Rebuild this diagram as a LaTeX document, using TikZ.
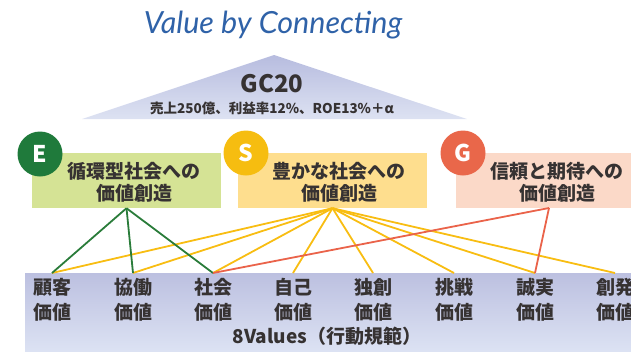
\documentclass[tikz,border=0pt]{standalone}
\usepackage{fontspec}
\setmainfont{Noto Sans CJK JP}
\newfontfamily\titlefont{Lato}
\definecolor{titleblue}{HTML}{2F62A8}
\definecolor{txtc}{HTML}{363232}
\definecolor{triTop}{HTML}{B7BCDF}
\definecolor{triBot}{HTML}{DDE2F2}
\definecolor{bandTop}{HTML}{BCC0E0}
\definecolor{bandBot}{HTML}{DCE2F3}
\definecolor{eFill}{HTML}{D5E395}
\definecolor{sFill}{HTML}{FEDE8E}
\definecolor{gFill}{HTML}{FBD9C8}
\definecolor{eCirc}{HTML}{1F7A3B}
\definecolor{sCirc}{HTML}{F6BD10}
\definecolor{gCirc}{HTML}{E9674A}
\definecolor{eLine}{HTML}{2A7C3A}
\definecolor{sLine}{HTML}{F8BD12}
\definecolor{gLine}{HTML}{EA634A}
\begin{document}
\begin{tikzpicture}[x=1pt,y=-1pt,
  lbl/.style={font=\bfseries\fontsize{19}{22}\selectfont, text=txtc, align=center, inner sep=0pt},
  vlbl/.style={font=\bfseries\fontsize{19}{25}\selectfont, text=txtc, align=center, inner sep=0pt},
  pillar/.style={draw=none, minimum width=#1, minimum height=55pt, inner sep=0pt},
  badge/.style={circle, minimum size=45pt, inner sep=0pt, font=\bfseries\fontsize{23}{23}\selectfont, text=white},
  eln/.style={draw=eLine, line width=1.8pt},
  sln/.style={draw=sLine, line width=1.8pt},
  gln/.style={draw=gLine, line width=1.8pt}
]
\useasboundingbox (0,0) rectangle (631,351);
% title
\node[anchor=base, font=\titlefont\itshape\fontsize{30.5}{32}\selectfont, text=titleblue] (title) at (273,33) {Value by Connecting};
% triangle
\shade[top color=triTop, bottom color=triBot] (82,119) -- (274,55) -- (467,119) -- cycle;
\node[anchor=base, font=\bfseries\fontsize{24}{24}\selectfont, text=txtc, inner sep=0pt] (gc) at (272,92) {GC20};
\node[anchor=base, font=\bfseries\fontsize{13.5}{15}\selectfont, text=txtc, inner sep=0pt] (gcsub) at (272,113) {売上250億、利益率12\%、ROE13\%＋α};
% bottom band
\shade[top color=bandTop, bottom color=bandBot] (25,273) rectangle (631,351);
% ESG boxes
\node[pillar=189pt, fill=eFill] (ebox) at (126.5,180.5) {};
\node[pillar=189pt, fill=sFill] (sbox) at (332.5,180.5) {};
\node[pillar=175pt, fill=gFill] (gbox) at (543.5,180.5) {};
\node[lbl] (etxt) at (134,182) {循環型社会への\\価値創造};
\node[lbl] (stxt) at (339,182) {豊かな社会への\\価値創造};
\node[lbl] (gtxt) at (557,182) {信頼と期待への\\価値創造};
\node[badge, fill=eCirc] (ec) at (40,154) {E};
\node[badge, fill=sCirc] (sc) at (246,153) {S};
\node[badge, fill=gCirc] (gc2) at (463,153) {G};
\coordinate (ga) at (549,208);
% value labels
\foreach \name/\x/\t in {v1/52/顧客, v2/133/協働, v3/213/社会, v4/293/自己, v5/373/独創, v6/454/挑戦, v7/535/誠実, v8/615/創発}{
  \coordinate (\name) at (\x,273);
  \node[vlbl] (\name t) at (\x,300) {\t\\価値};
}
\node[anchor=base, font=\bfseries\fontsize{19}{20}\selectfont, text=txtc, inner sep=0pt] (eight) at (327,343) {8Values（行動規範）};
% connectors
\foreach \v in {v1,v2,v3,v4,v5,v6,v7,v8} \draw[sln] (sbox.south) -- (\v);
\foreach \v in {v1,v2,v3} \draw[eln] (ebox.south) -- (\v);
\foreach \v in {v3,v7} \draw[gln] (ga) -- (\v);
\end{tikzpicture}
\end{document}
